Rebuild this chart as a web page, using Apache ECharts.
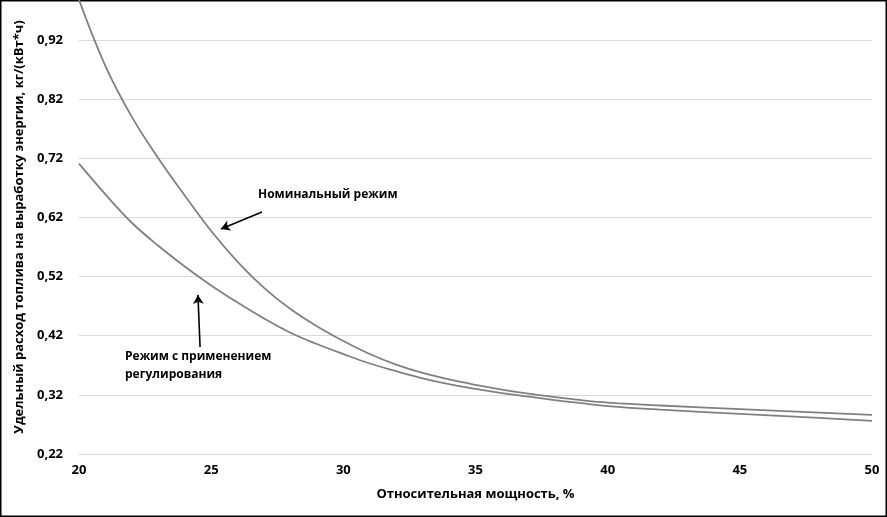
<!DOCTYPE html>
<html>
<head>
<meta charset="utf-8">
<script src="https://cdn.jsdelivr.net/npm/echarts@6/dist/echarts.min.js"></script>
<style>
html,body{margin:0;padding:0;background:#fff;}
#chart{width:887px;height:517px;}
</style>
</head>
<body>
<div id="chart"></div>
<script>
// Relative power, %
const xNominal = [20, 21, 22, 23, 24, 25, 26, 27, 28, 29, 30, 31, 32, 33, 34, 35, 36, 37, 38, 39, 40, 42, 45, 48, 50];
const yNominal = [0.988, 0.876, 0.79, 0.72, 0.657, 0.597, 0.545, 0.501, 0.465, 0.436, 0.411, 0.389, 0.371, 0.357, 0.346, 0.337, 0.329, 0.322, 0.316, 0.311, 0.307, 0.302, 0.296, 0.29, 0.286];
const xRegulated = [20, 21, 22, 23, 24, 25, 26, 27, 28, 29, 30, 31, 32, 33, 34, 35, 36, 37, 38, 39, 40, 42, 45, 48, 50];
const yRegulated = [0.711, 0.659, 0.611, 0.572, 0.537, 0.505, 0.476, 0.449, 0.425, 0.406, 0.389, 0.373, 0.36, 0.348, 0.338, 0.33, 0.323, 0.317, 0.311, 0.306, 0.301, 0.295, 0.288, 0.281, 0.276];
const xTitle = 'Относительная мощность, %';
const yTitle = 'Удельный расход топлива на выработку энергии, кг/(кВт*ч)';
const labelNominal = 'Номинальный режим';
const labelRegulated = 'Режим с применением\nрегулирования';

const pairs = (xs, ys) => xs.map((x, i) => [x, ys[i]]);
const FONT = '"Open Sans", sans-serif';

const chart = echarts.init(document.getElementById('chart'));
chart.setOption({
  backgroundColor: '#fff',
  animation: false,
  grid: { left: 79, right: 15, top: 0, bottom: 63, containLabel: false },
  xAxis: {
    type: 'value', min: 20, max: 50, interval: 5,
    name: xTitle, nameLocation: 'middle', nameGap: 34,
    nameTextStyle: { fontFamily: FONT, fontWeight: 'bold', fontSize: 13, color: '#000' },
    axisLine: { show: false }, axisTick: { show: false },
    splitLine: { show: false },
    axisLabel: { fontFamily: FONT, fontWeight: 'bold', fontSize: 13, color: '#000', margin: 10 }
  },
  yAxis: {
    type: 'value', min: 0.22, max: 0.9876, interval: 0.1,
    name: yTitle, nameLocation: 'middle', nameGap: 52,
    nameTextStyle: { fontFamily: FONT, fontWeight: 'bold', fontSize: 13, color: '#000' },
    axisLine: { show: false }, axisTick: { show: false },
    splitLine: { show: true, showMaxLine: false, lineStyle: { color: '#d9d9d9', width: 1 } },
    axisLabel: {
      fontFamily: FONT, fontWeight: 'bold', fontSize: 13, color: '#000', margin: 16,
      showMaxLabel: false,
      formatter: v => v.toFixed(2).replace('.', ',')
    }
  },
  series: [
    {
      type: 'line', name: labelNominal, data: pairs(xNominal, yNominal),
      smooth: 0.4, showSymbol: false, clip: true,
      lineStyle: { color: '#808080', width: 1.8 },
      markLine: {
        silent: true, symbol: ['none', 'arrow'], symbolSize: [8, 9],
        label: { show: false },
        lineStyle: { color: '#000', width: 1.6, type: 'solid' },
        data: [[{ coord: [26.92, 0.629] }, { coord: [25.37, 0.6005] }]]
      }
    },
    {
      type: 'line', name: labelRegulated, data: pairs(xRegulated, yRegulated),
      smooth: 0.4, showSymbol: false, clip: true,
      lineStyle: { color: '#808080', width: 1.8 },
      markLine: {
        silent: true, symbol: ['none', 'arrow'], symbolSize: [8, 9],
        label: { show: false },
        lineStyle: { color: '#000', width: 1.6, type: 'solid' },
        data: [[{ coord: [24.58, 0.401] }, { coord: [24.5, 0.489] }]]
      }
    }
  ],
  graphic: [
    { type: 'text', left: 258, top: 189, style: { text: labelNominal, font: 'bold 12px ' + FONT, fill: '#000' } },
    { type: 'text', left: 125, top: 348, style: { text: labelRegulated, font: 'bold 12px ' + FONT, fill: '#000', lineHeight: 18 } },
    { type: 'rect', shape: { x: 0.75, y: 0.75, width: 885.5, height: 515.5 }, style: { fill: 'none', stroke: '#000', lineWidth: 1.5 }, silent: true }
  ]
});
</script>
</body>
</html>
